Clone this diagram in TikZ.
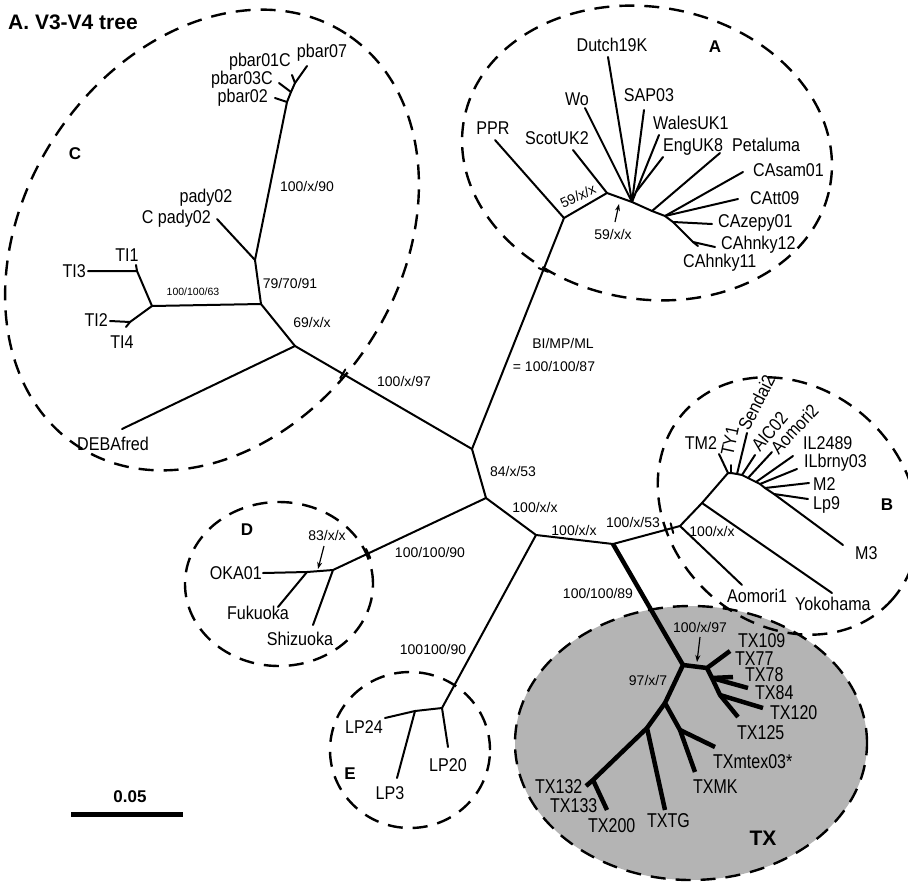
\documentclass[tikz,border=0pt]{standalone}
\usepackage{fontspec}
\setmainfont{Liberation Sans}
\newfontfamily\nfont[FakeStretch=0.87]{Liberation Sans}
\newfontfamily\txfont[FakeStretch=0.8]{Liberation Sans}
\usetikzlibrary{calc,arrows.meta}
\definecolor{txgray}{RGB}{180,180,180}
\begin{document}
\begin{tikzpicture}[x=1pt,y=-1pt,
  br/.style={line width=2pt, line cap=round, line join=round},
  tbr/.style={line width=4.5pt, line cap=butt, line join=round},
  grp/.style={line width=2.4pt, dash pattern=on 15pt off 10pt},
  lbl/.style={font=\nfont\fontsize{18.5}{19}\selectfont, inner sep=0pt},
  txl/.style={font=\txfont\fontsize{20}{20}\selectfont, inner sep=0pt},
  supp/.style={font=\fontsize{14}{14}\selectfont, inner sep=0pt},
  ssup/.style={font=\fontsize{10.5}{11}\selectfont, inner sep=0pt},
  glab/.style={font=\bfseries\fontsize{17}{17}\selectfont, inner sep=0pt},
  arr/.style={line width=1.2pt, -{Stealth[length=7pt,width=5pt]}},
]
\useasboundingbox (0,0) rectangle (908,884);
\fill[white] (0,0) rectangle (908,884);

% ---------- group outlines
\fill[txgray] (691,743) ellipse [x radius=176pt, y radius=137pt];
\draw[grp] (691,743) ellipse [x radius=176pt, y radius=137pt];
\draw[grp, rotate around={57:(212,240)}] (212,240) ellipse [x radius=246pt, y radius=188pt];
\draw[grp, rotate around={-10:(647,153)}] (647,153) ellipse [x radius=186pt, y radius=146pt];
\draw[grp, rotate around={-43:(788,506)}] (788,506) ellipse [x radius=140pt, y radius=118pt];
\draw[grp] (279,584) ellipse [x radius=94pt, y radius=82pt];
\draw[grp] (410,750) ellipse [x radius=80pt, y radius=78pt];

% ---------- coordinates
% backbone
\coordinate (N1) at (472,449);
\coordinate (N2) at (486,498);
\coordinate (N3) at (536,535);
\coordinate (N4) at (613,544);
\coordinate (N5) at (680,526);
% C
\coordinate (C0) at (295,346);
\coordinate (CX) at (261,304);
\coordinate (CY) at (255,260);
\coordinate (CT) at (152,306);
\coordinate (CTu) at (137,271);
\coordinate (CTd) at (130,322);
\coordinate (lTI3) at (88,271);
\coordinate (lTI1) at (136,265);
\coordinate (lTI2) at (110,321);
\coordinate (lTI4) at (126,327);
\coordinate (lDEB) at (122,429);
\coordinate (lpady) at (217,219);
\coordinate (P0) at (287,102);
\coordinate (P1) at (291,92);
\coordinate (P2) at (295,83);
\coordinate (lpb07) at (307,66);
\coordinate (lpb02) at (275,98);
\coordinate (lpb03) at (279,83);
\coordinate (lpb01) at (292,75);
% A
\coordinate (A0) at (564,218);
\coordinate (A1) at (607,193);
\coordinate (A2) at (632,202);
\coordinate (A2b) at (636,192);
\coordinate (A3) at (652,211);
\coordinate (A4) at (665,216);
\coordinate (A5) at (673,222);
\coordinate (A6) at (693,242);
\coordinate (lPPR) at (495,140);
\coordinate (lScot) at (573,150);
\coordinate (lWo) at (585,108);
\coordinate (lDutch) at (608,57);
\coordinate (lSAP) at (644,110);
\coordinate (lWales) at (659,135);
\coordinate (lEng) at (663,157);
\coordinate (lPeta) at (720,153);
\coordinate (lCAsam) at (743,172);
\coordinate (lCAtt) at (738,199);
\coordinate (lCAzepy) at (712,224);
\coordinate (lCAh12) at (715,247);
\coordinate (lCAh11) at (698,246);
% B
\coordinate (B1) at (702,503);
\coordinate (B2) at (728,473);
\coordinate (bTY) at (731,473);
\coordinate (bSe) at (737,474);
\coordinate (bAI) at (742,475);
\coordinate (B3) at (748,478);
\coordinate (bIL) at (756,482);
\coordinate (bILb) at (760,484);
\coordinate (B4) at (765,488);
\coordinate (bLp) at (774,494);
\coordinate (lM3) at (843,545);
\coordinate (lTM2) at (719,454);
\coordinate (lTY1) at (731,465);
\coordinate (lSen) at (747,433);
\coordinate (lAIC) at (755,455);
\coordinate (lAom2) at (772,452);
\coordinate (lIL) at (793,456);
\coordinate (lILb) at (797,469);
\coordinate (lM2) at (809,483);
\coordinate (lLp9) at (808,499);
\coordinate (lAom1) at (742,585);
\coordinate (lYoko) at (832,593);
% D
\coordinate (D0) at (333,570);
\coordinate (D1) at (307,572);
\coordinate (lOKA) at (263,573);
\coordinate (lFuk) at (278,607);
\coordinate (lShi) at (313,625);
% E
\coordinate (E0) at (442,708);
\coordinate (E1) at (415,711);
\coordinate (lLP24) at (385,718);
\coordinate (lLP3) at (397,778);
\coordinate (lLP20) at (448,747);
% TX
\coordinate (TX1) at (683,665);
\coordinate (TX2) at (707,668);
\coordinate (TXa) at (730,651);
\coordinate (TXb) at (712,678);
\coordinate (TXc) at (720,695);
\coordinate (lTX125) at (738,717);
\coordinate (lTX78) at (733,677);
\coordinate (lTX84) at (748,688);
\coordinate (lTX120) at (763,708);
\coordinate (TX4) at (665,703);
\coordinate (TX5) at (680,730);
\coordinate (lTXMK) at (695,772);
\coordinate (lTXmtex) at (715,747);
\coordinate (TX6) at (647,728);
\coordinate (lTXTG) at (665,810);
\coordinate (TX7) at (593,780);
\coordinate (lTX200) at (607,810);
\coordinate (lTX132) at (586,786);

% ---------- branches
\draw[br] (A0) -- (N1) -- (N2) -- (N3) -- (N4) -- (N5);
\draw[br] (N1) -- (C0);
\draw[br] (N2) -- (D0);
\draw[br] (N3) -- (E0);
\draw[tbr] (N4) -- (TX1);
% C
\draw[br] (C0) -- (lDEB);
\draw[br] (C0) -- (CX) -- (CY) -- (P0) -- (P1) -- (P2) -- (lpb07);
\draw[br] (P0) -- (lpb02);
\draw[br] (P1) -- (lpb03);
\draw[br] (P2) -- (lpb01);
\draw[br] (CY) -- (lpady);
\draw[br] (CX) -- (CT);
\draw[br] (CT) -- (CTu) -- (lTI3);
\draw[br] (CTu) -- (lTI1);
\draw[br] (CT) -- (CTd) -- (lTI2);
\draw[br] (CTd) -- (lTI4);
% A
\draw[br] (A0) -- (lPPR);
\draw[br] (A0) -- (A1) -- (A2) -- (A3) -- (A4) -- (A5) -- (A6);
\draw[br] (A1) -- (lScot);
\draw[br] (A2) -- (lWo);
\draw[br] (A2) -- (lDutch);
\draw[br] (A2) -- (lSAP);
\draw[br] (A2) -- (A2b);
\draw[br] (A2b) -- (lWales);
\draw[br] (A2b) -- (lEng);
\draw[br] (A3) -- (lPeta);
\draw[br] (A4) -- (lCAsam);
\draw[br] (A4) -- (lCAtt);
\draw[br] (A5) -- (lCAzepy);
\draw[br] (A6) -- (lCAh12);
\draw[br] (A6) -- (lCAh11);
% B
\draw[br] (N5) -- (B1) -- (B2) -- (bTY) -- (bSe) -- (bAI) -- (B3) -- (bIL) -- (bILb) -- (B4) -- (bLp) -- (lM3);
\draw[br] (N5) -- (lAom1);
\draw[br] (B1) -- (lYoko);
\draw[br] (B2) -- (lTM2);
\draw[br] (bTY) -- (lTY1);
\draw[br] (bSe) -- (lSen);
\draw[br] (bAI) -- (lAIC);
\draw[br] (B3) -- (lAom2);
\draw[br] (bIL) -- (lIL);
\draw[br] (bILb) -- (lILb);
\draw[br] (B4) -- (lM2);
\draw[br] (bLp) -- (lLp9);
% D
\draw[br] (D0) -- (D1) -- (lOKA);
\draw[br] (D1) -- (lFuk);
\draw[br] (D0) -- (lShi);
% E
\draw[br] (E0) -- (E1) -- (lLP24);
\draw[br] (E1) -- (lLP3);
\draw[br] (E0) -- (lLP20);
% TX
\draw[tbr] (TX1) -- (TX2) -- (TXa);
\draw[tbr] (TX2) -- (TXb) -- (TXc) -- (lTX125);
\draw[tbr] (TXb) -- (lTX78);
\draw[tbr] (TXb) -- (lTX84);
\draw[tbr] (TXc) -- (lTX120);
\draw[tbr] (TX1) -- (TX4) -- (TX5) -- (lTXMK);
\draw[tbr] (TX5) -- (lTXmtex);
\draw[tbr] (TX4) -- (TX6) -- (lTXTG);
\draw[tbr] (TX6) -- (TX7) -- (lTX200);
\draw[tbr] (TX7) -- (lTX132);

% ---------- ticks where outlines cross branches
\path ($(N1)!0.775!(A0)$) coordinate (tk1);
\draw[br] ($(tk1)!5pt!90:(A0)$) -- ($(tk1)!5pt!-90:(A0)$);
\path ($(N1)!0.73!(C0)$) coordinate (tk2);
\draw[br] ($(tk2)!5pt!90:(C0)$) -- ($(tk2)!5pt!-90:(C0)$);
\path ($(N4)!0.88!(N5)$) coordinate (tk3);
\draw[br] ($(tk3)!5pt!90:(N5)$) -- ($(tk3)!5pt!-90:(N5)$);
\path ($(N2)!0.77!(D0)$) coordinate (tk4);
\draw[br] ($(tk4)!5pt!90:(D0)$) -- ($(tk4)!5pt!-90:(D0)$);

% ---------- title and scale
\node[font=\bfseries\fontsize{21}{21}\selectfont, anchor=west, inner sep=0pt] (title) at (8,22) {A. V3-V4 tree};
\coordinate (sb1) at (71,814);
\coordinate (sb2) at (183,814);
\draw[line width=5pt] (sb1) -- (sb2);
\node[font=\bfseries\fontsize{17}{17}\selectfont, inner sep=0pt] (sbl) at (130,797) {0.05};

% ---------- C labels
\node[lbl] (tpb07) at (322,53) {pbar07};
\node[lbl, anchor=east] (tpb01) at (291,62) {pbar01C};
\node[lbl, anchor=east] (tpb03) at (273,80) {pbar03C};
\node[lbl, anchor=east] (tpb02) at (268,98) {pbar02};
\node[lbl] (tpady) at (206,198) {pady02};
\node[lbl, anchor=east] (tcpady) at (211,219) {C pady02};
\node[lbl] (tTI1) at (127,255) {TI1};
\node[lbl, anchor=east] (tTI3) at (86,271) {TI3};
\node[lbl, anchor=east] (tTI2) at (108,320) {TI2};
\node[lbl] (tTI4) at (122,342) {TI4};
\node[lbl] (tDEB) at (113,444) {DEBAfred};
\node[glab] (gC) at (75,154) {C};
\node[supp] (s1) at (307,186) {100/x/90};
\node[supp] (s2) at (290,283) {79/70/91};
\node[ssup] (s3) at (193,292) {100/100/63};
\node[supp] (s4) at (312,322) {69/x/x};
\node[supp] (s5) at (404,381) {100/x/97};

% ---------- A labels
\node[lbl] (tPPR) at (493,128) {PPR};
\node[lbl] (tScot) at (557,138) {ScotUK2};
\node[lbl] (tWo) at (577,99) {Wo};
\node[lbl] (tDutch) at (612,45) {Dutch19K};
\node[lbl] (tSAP) at (649,95) {SAP03};
\node[lbl, anchor=west] (tWales) at (653,123) {WalesUK1};
\node[lbl, anchor=west] (tEng) at (663,147) {EngUK8};
\node[lbl, anchor=west] (tPeta) at (732,145) {Petaluma};
\node[lbl, anchor=west] (tCAsam) at (753,170) {CAsam01};
\node[lbl, anchor=west] (tCAtt) at (750,198) {CAtt09};
\node[lbl, anchor=west] (tCAzepy) at (718,223) {CAzepy01};
\node[lbl, anchor=west] (tCAh12) at (721,245) {CAhnky12};
\node[lbl, anchor=west] (tCAh11) at (683,263) {CAhnky11};
\node[glab] (gA) at (715,47) {A};
\node[supp, rotate=25] (s6) at (578,196) {59/x/x};
\node[supp] (s7) at (613,234) {59/x/x};
\coordinate (a1s) at (615,222);
\coordinate (a1e) at (619,204);
\draw[arr] (a1s) -- (a1e);

% ---------- backbone labels
\node[supp] (s8) at (563,343) {BI/MP/ML};
\node[supp] (s9) at (554,366) {= 100/100/87};
\node[supp] (s10) at (513,471) {84/x/53};
\node[supp] (s11) at (535,507) {100/x/x};
\node[supp] (s12) at (574,530) {100/x/x};
\node[supp] (s13) at (633,522) {100/x/53};

% ---------- B labels
\node[lbl] (tTM2) at (701,443) {TM2};
\node[lbl, rotate=78] (tTY1) at (730,441) {TY1};
\node[lbl, rotate=63, anchor=west] (tSen) at (743,429) {Sendai2};
\node[lbl, rotate=50, anchor=west] (tAIC) at (755,449) {AIC02};
\node[lbl, rotate=47, anchor=west] (tAom2) at (774,451) {Aomori2};
\node[lbl, anchor=west] (tIL) at (803,443) {IL2489};
\node[lbl, anchor=west] (tILb) at (804,463) {ILbrny03};
\node[lbl, anchor=west] (tM2) at (813,484) {M2};
\node[lbl, anchor=west] (tLp9) at (813,505) {Lp9};
\node[lbl, anchor=west] (tM3) at (855,553) {M3};
\node[lbl, anchor=west] (tAom1) at (727,596) {Aomori1};
\node[lbl, anchor=west] (tYoko) at (795,604) {Yokohama};
\node[glab] (gB) at (887,505) {B};
\node[supp] (s14) at (712,531) {100/x/x};

% ---------- D labels
\node[lbl, anchor=east] (tOKA) at (262,573) {OKA01};
\node[lbl] (tFuk) at (258,613) {Fukuoka};
\node[lbl] (tShi) at (300,639) {Shizuoka};
\node[glab] (gD) at (247,530) {D};
\node[supp] (s15) at (327,535) {83/x/x};
\coordinate (a2s) at (324,546);
\coordinate (a2e) at (318,569);
\draw[arr] (a2s) -- (a2e);
\node[supp] (s16) at (430,552) {100/100/90};

% ---------- E labels
\node[lbl] (tLP24) at (364,727) {LP24};
\node[lbl] (tLP3) at (390,793) {LP3};
\node[lbl] (tLP20) at (448,765) {LP20};
\node[glab] (gE) at (350,774) {E};
\node[supp] (s17) at (433,649) {100100/90};

% ---------- TX labels
\node[supp] (s18) at (598,593) {100/100/89};
\node[supp] (s19) at (700,627) {100/x/97};
\coordinate (a3s) at (700,637);
\coordinate (a3e) at (697,662);
\draw[arr] (a3s) -- (a3e);
\node[supp] (s20) at (648,680) {97/x/7};
\node[txl, anchor=west] (tTX109) at (738,641) {TX109};
\node[txl, anchor=west] (tTX77) at (735,659) {TX77};
\node[txl, anchor=west] (tTX78) at (745,675) {TX78};
\node[txl, anchor=west] (tTX84) at (755,693) {TX84};
\node[txl, anchor=west] (tTX120) at (770,713) {TX120};
\node[txl, anchor=west] (tTX125) at (737,733) {TX125};
\node[txl, anchor=west] (tTXm) at (713,762) {TXmtex03*};
\node[txl, anchor=west] (tTXMK) at (693,787) {TXMK};
\node[txl, anchor=west] (tTXTG) at (647,821) {TXTG};
\node[txl, anchor=west] (tTX200) at (588,826) {TX200};
\node[txl, anchor=west] (tTX133) at (550,806) {TX133};
\node[txl, anchor=west] (tTX132) at (535,787) {TX132};
\node[font=\bfseries\fontsize{21}{21}\selectfont, inner sep=0pt] (gTX) at (763,838) {TX};
\end{tikzpicture}
\end{document}
